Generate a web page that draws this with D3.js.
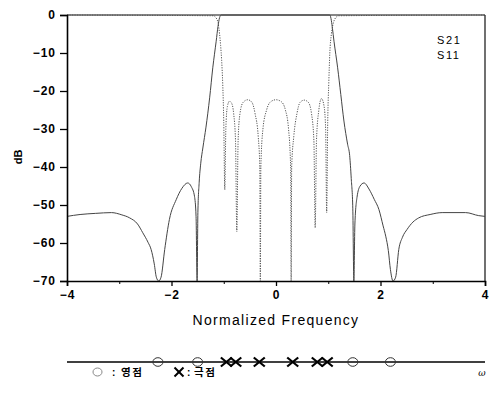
<!DOCTYPE html>
<html><head><meta charset="utf-8">
<script src="https://cdn.jsdelivr.net/npm/d3@7/dist/d3.min.js"></script>
<style>
html,body{margin:0;padding:0;background:#fff;}
svg{display:block;font-family:"Liberation Sans",Arial,sans-serif;}
</style></head>
<body><svg id="c" width="494" height="395"></svg>
<script>
// ---- data ----
const xTicks = [-4, -2, 0, 2, 4];
const xMinorTicks = [-3, -1, 1, 3];
const yTicks = [0, -10, -20, -30, -40, -50, -60, -70];
const seriesNames = ["S21", "S11"];

const s21Freq = [-4, -3.75, -3.45, -3.15, -2.95, -2.8, -2.65, -2.55, -2.45, -2.39, -2.33, -2.29, -2.245, -2.2, -2.13, -2.04, -1.91, -1.8, -1.69, -1.62, -1.56, -1.53, -1.51, -1.495, -1.47, -1.44, -1.4, -1.34, -1.27, -1.21, -1.145, -1.11, -1.08, -1.05, 0, 1.03, 1.06, 1.08, 1.11, 1.18, 1.24, 1.3, 1.37, 1.41, 1.44, 1.47, 1.49, 1.51, 1.55, 1.61, 1.685, 1.78, 1.88, 1.97, 2.05, 2.1, 2.15, 2.19, 2.24, 2.29, 2.35, 2.42, 2.51, 2.62, 2.73, 2.95, 3.18, 3.63, 3.88, 4];
const s21dB = [-53, -52.5, -52.2, -52, -52.6, -53.4, -55, -57.3, -59.8, -61.7, -65.5, -69, -70, -69, -61.7, -53.8, -48.6, -45.6, -44.2, -45.2, -47.7, -53, -70, -52, -44, -39, -35, -29.5, -21.8, -13.9, -6.9, -3, -0.7, 0, 0, 0, -1.5, -3.5, -6.9, -13.9, -20.9, -27.9, -34, -37, -43, -51, -70, -55, -48, -45, -44.2, -45.8, -48.5, -51.2, -55.5, -58.2, -62, -67, -70, -69, -61.7, -58.5, -56.4, -54.5, -53.4, -52.5, -52, -52, -52.8, -53];

const s11Freq = [-4, -1.2, -1.15, -1.11, -1.08, -1.06, -1.04, -1.02, -1.0, -0.98, -0.96, -0.93, -0.89, -0.85, -0.81, -0.775, -0.75, -0.725, -0.69, -0.63, -0.54, -0.46, -0.4, -0.34, -0.31, -0.3, -0.29, -0.25, -0.18, -0.1, 0, 0.1, 0.18, 0.24, 0.28, 0.29, 0.3, 0.34, 0.4, 0.46, 0.54, 0.62, 0.68, 0.725, 0.75, 0.775, 0.82, 0.87, 0.92, 0.95, 0.97, 0.99, 1.01, 1.03, 1.06, 1.1, 1.15, 1.2, 4];
const s11dB = [0, -0.2, -0.7, -2, -5, -8, -12, -18, -28, -46, -30, -24, -22.7, -23.2, -26, -33, -57, -33, -26, -23, -22.3, -23, -26, -32, -40, -70, -40, -30, -25, -22.8, -22.3, -22.8, -25, -30, -40, -70, -40, -32, -26, -23, -22.4, -23, -26, -33, -56, -33, -25, -22, -24, -30, -52, -28, -18, -10, -5, -2, -0.6, -0.2, 0];

const zeroFreq = [-2.26, -1.5, 1.47, 2.19];
const poleFreq = [-0.95, -0.77, -0.32, 0.32, 0.79, 0.98];
const legendLabels = ["영점", "극점"];
// ---------------------------------------

const svg = d3.select("#c");
const X0 = 67, X1 = 485, Y0 = 15, Y1 = 281;
const x = d3.scaleLinear().domain([-4, 4]).range([X0, X1]);
const y = d3.scaleLinear().domain([-70, 0]).range([Y1, Y0]).clamp(true);

// frame top/right
svg.append("line").attr("x1", X0).attr("x2", X1).attr("y1", Y0).attr("y2", Y0).attr("stroke", "#111").attr("stroke-width", 1.2);
svg.append("line").attr("x1", X1).attr("x2", X1).attr("y1", Y0).attr("y2", Y1).attr("stroke", "#111").attr("stroke-width", 1.2);

// curves
const s21 = s21Freq.map((f, i) => [f, s21dB[i]]);
const s11 = s11Freq.map((f, i) => [f, s11dB[i]]);
const line = d3.line().x(d => x(d[0])).y(d => y(d[1])).curve(d3.curveMonotoneX);

svg.append("path").datum(s11).attr("d", line).attr("fill", "none")
  .attr("stroke", "#555").attr("stroke-width", 1).attr("stroke-dasharray", "1.2,1.3");
svg.append("path").datum(s21).attr("d", line).attr("fill", "none")
  .attr("stroke", "#444").attr("stroke-width", 1);

// axes
const ax = svg.append("g").attr("transform", `translate(0,${Y1})`)
  .call(d3.axisBottom(x).tickValues(xTicks).tickSize(5).tickPadding(3).tickFormat(d3.format("d")));
svg.append("g").attr("transform", `translate(0,${Y1})`)
  .call(d3.axisBottom(x).tickValues(xMinorTicks).tickSize(3).tickFormat(""))
  .call(g => g.select(".domain").remove());
const ay = svg.append("g").attr("transform", `translate(${X0},0)`)
  .call(d3.axisLeft(y).tickValues(yTicks).tickSize(7).tickPadding(4).tickFormat(d3.format("d")));
[ax, ay].forEach(g => {
  g.select(".domain").attr("stroke", "#000").attr("stroke-width", 1.6);
  g.selectAll(".tick line").attr("stroke", "#000").attr("stroke-width", 1.3);
  g.selectAll(".tick text").attr("fill", "#000").style("font-size", "12px")
    .style("font-weight", "bold").style("letter-spacing", "1px")
    .style("font-family", "'Liberation Sans',Arial,sans-serif");
});
ax.selectAll(".tick text").attr("dy", "0.8em");

// axis titles
svg.append("text").attr("x", 276).attr("y", 325).attr("text-anchor", "middle")
  .style("font-size", "14px").style("letter-spacing", "1.3px").attr("fill", "#000")
  .text("Normalized Frequency");
svg.append("text").attr("transform", "translate(22,157) rotate(-90)").attr("text-anchor", "middle")
  .style("font-size", "11px").style("font-weight", "bold").attr("fill", "#000").text("dB");

// legend
svg.selectAll("text.leg").data(seriesNames).join("text").attr("class", "leg")
  .attr("x", 437).attr("y", (d, i) => 44 + i * 15)
  .style("font-size", "11px").style("letter-spacing", "1.6px").attr("fill", "#000").text(d => d);

// pole-zero diagram
const LY = 362;
svg.append("line").attr("x1", X0).attr("x2", X1).attr("y1", LY).attr("y2", LY)
  .attr("stroke", "#000").attr("stroke-width", 1.6);
svg.selectAll("ellipse.z").data(zeroFreq).join("ellipse").attr("class", "z")
  .attr("cx", d => x(d)).attr("cy", LY).attr("rx", 5).attr("ry", 4.3)
  .attr("fill", "none").attr("stroke", "#333").attr("stroke-width", 1);
function cross(g, cx, cy, w, h) {
  g.append("line").attr("x1", cx - w).attr("x2", cx + w).attr("y1", cy - h).attr("y2", cy + h);
  g.append("line").attr("x1", cx - w).attr("x2", cx + w).attr("y1", cy + h).attr("y2", cy - h);
}
const pg = svg.append("g").attr("stroke", "#000").attr("stroke-width", 2.2);
poleFreq.forEach(f => cross(pg, x(f), LY, 5.5, 4.5));
svg.append("text").attr("x", 482).attr("y", 376).attr("text-anchor", "middle")
  .style("font-family", "'DejaVu Serif',serif")
  .style("font-size", "9px").style("font-style", "italic").text("ω");

// pole-zero legend
const LG = 372;
svg.append("ellipse").attr("cx", 97.5).attr("cy", LG).attr("rx", 4.5).attr("ry", 4)
  .attr("fill", "none").attr("stroke", "#888").attr("stroke-width", 1);
const lg = svg.append("g").attr("stroke", "#000").attr("stroke-width", 2);
cross(lg, 179, LG, 4.5, 4.5);
const kfont = "'Noto Sans CJK KR','Noto Sans',sans-serif";
svg.append("text").attr("x", 112).attr("y", LG + 4).style("font-size", "10px").style("font-weight", "bold").text(":");
svg.append("text").attr("x", 187).attr("y", LG + 4).style("font-size", "10px").style("font-weight", "bold").text(":");
svg.selectAll("text.kl").data(legendLabels).join("text").attr("class", "kl")
  .attr("x", (d, i) => i === 0 ? 121 : 194).attr("y", LG + 4)
  .style("font-family", kfont).style("font-size", "10.5px").style("font-weight", "bold")
  .style("letter-spacing", "1.5px").text(d => d);
</script></body></html>
